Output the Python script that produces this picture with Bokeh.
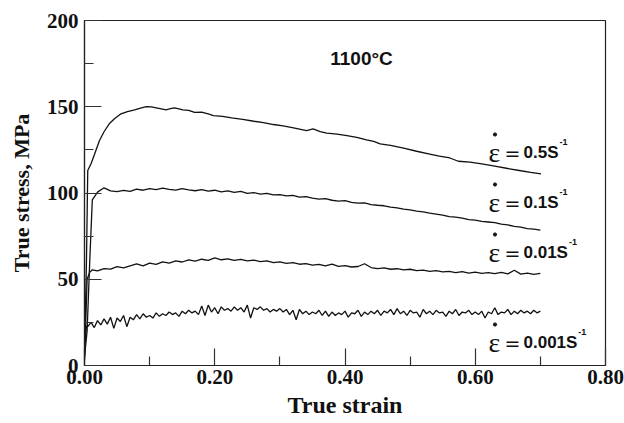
from bokeh.plotting import figure
from bokeh.models import FixedTicker, NumeralTickFormatter, Range1d
from bokeh.core.properties import value
from bokeh.embed import file_html
from bokeh.resources import INLINE

# ---------------- data ----------------
strain_05 = [0.0, 0.003, 0.005, 0.010, 0.015, 0.023, 0.030, 0.038, 0.046, 0.056, 0.066, 0.077,
             0.086, 0.095, 0.103, 0.110, 0.118, 0.125, 0.132, 0.138, 0.145, 0.151, 0.160, 0.169,
             0.181, 0.190, 0.198, 0.212, 0.226, 0.243, 0.260, 0.275, 0.290, 0.305, 0.321, 0.341,
             0.351, 0.362, 0.372, 0.388, 0.403, 0.418, 0.433, 0.444, 0.454, 0.470, 0.490, 0.510,
             0.530, 0.545, 0.561, 0.574, 0.592, 0.610, 0.630, 0.650, 0.670, 0.685, 0.701]
stress_05 = [5.0, 60.0, 113.0, 117.0, 122.0, 130.4, 135.5, 140.1, 143.0, 145.9, 147.2, 148.2,
             149.2, 150.1, 149.9, 149.4, 148.8, 148.2, 148.9, 149.4, 148.8, 148.2, 147.9, 146.7,
             146.8, 145.8, 144.9, 144.4, 143.6, 142.7, 141.6, 140.8, 139.7, 138.9, 137.8, 136.2,
             137.2, 135.6, 134.7, 134.1, 133.3, 132.3, 130.8, 129.9, 128.5, 127.6, 126.0, 124.2,
             122.6, 121.4, 120.3, 118.4, 117.9, 116.9, 115.6, 114.2, 112.9, 112.0, 111.1]

strain_01 = [0.0, 0.004, 0.008, 0.012, 0.02, 0.03, 0.04, 0.05, 0.06, 0.07, 0.08, 0.09, 0.10,
             0.11, 0.12, 0.13, 0.14, 0.15, 0.16, 0.17, 0.18, 0.19, 0.20, 0.21, 0.22, 0.23, 0.24,
             0.25, 0.26, 0.27, 0.28, 0.29, 0.30, 0.31, 0.32, 0.33, 0.34, 0.35, 0.36, 0.37, 0.38,
             0.39, 0.40, 0.41, 0.42, 0.43, 0.44, 0.45, 0.46, 0.47, 0.48, 0.49, 0.50, 0.51, 0.52,
             0.53, 0.54, 0.55, 0.56, 0.57, 0.58, 0.59, 0.60, 0.61, 0.62, 0.63, 0.64, 0.65, 0.66,
             0.67, 0.68, 0.69, 0.70]
stress_01 = [5.0, 20.0, 60.0, 96.0, 100.5, 103.0, 101.2, 100.8, 101.5, 100.9, 102.2, 101.6, 102.6,
             101.9, 102.8, 102.1, 101.7, 102.5, 101.8, 101.3, 102.0, 101.1, 101.6, 100.7, 101.2,
             100.3, 100.9, 99.8, 100.2, 99.4, 99.8, 98.9, 99.1, 98.3, 98.6, 97.6, 97.9, 97.0,
             96.4, 96.7, 95.8, 95.3, 95.6, 94.6, 94.1, 94.3, 93.3, 92.9, 92.6, 91.8, 91.4, 90.6,
             90.2, 89.5, 89.1, 88.3, 87.8, 87.2, 86.3, 86.0, 85.4, 84.6, 84.3, 83.5, 83.2, 82.8,
             81.9, 81.5, 80.6, 80.2, 79.4, 79.0, 78.5]

strain_001 = strain_01
stress_001 = [3.0, 50.0, 54.0, 55.5, 54.8, 56.2, 55.9, 57.3, 56.6, 57.8, 58.9, 57.7, 59.3,
              58.6, 60.1, 59.4, 60.6, 60.0, 61.2, 60.5, 61.6, 61.0, 62.4, 61.3, 61.8, 60.9,
              61.5, 60.6, 61.1, 60.2, 60.7, 59.6, 60.1, 59.2, 59.6, 58.7, 59.1, 58.2, 58.6,
              57.8, 58.8, 57.5, 57.9, 57.1, 57.4, 59.0, 56.8, 56.2, 56.6, 55.8, 56.1, 55.4,
              55.8, 55.0, 55.3, 54.6, 55.0, 54.3, 54.6, 53.9, 54.4, 53.6, 54.1, 53.4, 53.8,
              53.2, 54.0, 53.1, 55.2, 53.0, 53.5, 52.8, 53.4]

strain_0001 = [0.0, 0.003] + [round(0.005 * i, 3) for i in range(1, 141)]
stress_0001 = [8.0, 23.0,
    22.5, 25.0, 22.0, 26.0, 23.5, 27.0, 24.0, 28.0, 21.5, 27.5,
    25.5, 29.0, 22.5, 28.0, 26.5, 29.5, 27.0, 30.0, 28.0, 29.0,
    27.5, 30.5, 28.5, 30.0, 29.0, 31.0, 29.5, 30.5, 28.5, 31.5,
    30.0, 32.0, 30.5, 31.5, 29.5, 34.5, 29.0, 35.0, 31.0, 33.5,
    30.0, 34.0, 32.0, 33.0, 31.5, 34.0, 32.0, 33.5, 31.0, 35.0,
    27.5, 33.5, 32.5, 34.0, 32.0, 33.0, 31.0, 32.5, 31.5, 33.0,
    31.0, 32.5, 29.5, 32.0, 26.5, 32.5, 30.0, 31.5, 29.5, 31.0,
    30.0, 32.0, 29.0, 31.5, 28.5, 31.0, 29.0, 30.5, 29.5, 31.5,
    28.0, 30.5, 30.0, 32.0, 28.5, 31.0, 29.5, 31.5, 30.0, 32.0,
    29.0, 31.5, 30.5, 32.5, 29.5, 33.0, 30.0, 31.5, 29.0, 32.0,
    30.5, 31.0, 28.0, 32.5, 30.0, 31.5, 29.5, 32.0, 30.5, 31.0,
    28.5, 31.5, 30.0, 32.5, 29.0, 31.0, 30.5, 32.0, 29.5, 31.0,
    29.5, 31.5, 27.5, 31.0, 30.0, 33.5, 29.5, 31.0, 30.5, 32.5,
    29.5, 31.5, 30.0, 32.0, 30.5, 31.5, 30.0, 32.0, 30.5, 31.5]

rate_labels = ["0.5S", "0.1S", "0.01S", "0.001S"]
title_text = "1100°C"
x_ticks = [0.0, 0.2, 0.4, 0.6, 0.8]
x_minor = [0.1, 0.3, 0.5, 0.7]
y_ticks = [0, 50, 100, 150, 200]
y_minor = [25, 75, 125, 175]

# ---------------- layout helpers (pixel -> data) ----------------
FL, FR, FT, FB = 84, 605, 20, 365
def dx(px):
    return (px - FL) / (FR - FL) * 0.8
def dy(py):
    return (FB - py) / (FB - FT) * 200.0

p = figure(width=624, height=423, x_range=Range1d(0, 0.8), y_range=Range1d(0, 200),
           output_backend="svg", toolbar_location=None,
           min_border_left=FL, min_border_right=624 - FR, min_border_top=FT,
           min_border_bottom=423 - FB)
p.background_fill_color = "white"
p.border_fill_color = "white"
p.outline_line_color = "#222222"
p.outline_line_width = 1.2
p.xgrid.visible = False
p.ygrid.visible = False

serif = "Liberation Serif"
for ax in (p.xaxis[0], p.yaxis[0]):
    ax.major_tick_in = 17
    ax.major_tick_out = 0
    ax.minor_tick_in = 9
    ax.minor_tick_out = 0
    ax.axis_line_color = "#222222"
    ax.axis_line_width = 1.2
    ax.major_tick_line_color = "#333333"
    ax.minor_tick_line_color = "#333333"
    ax.major_tick_line_width = 1.2
    ax.minor_tick_line_width = 1.2
    ax.major_label_text_font = serif
    ax.major_label_text_font_style = "bold"
    ax.major_label_text_font_size = "21px"
    ax.major_label_text_color = "#111111"
    ax.axis_label_text_font = serif
    ax.axis_label_text_font_style = "bold"
    ax.axis_label_text_color = "#111111"

p.xaxis.ticker = FixedTicker(ticks=x_ticks, minor_ticks=x_minor)
p.yaxis.ticker = FixedTicker(ticks=y_ticks, minor_ticks=y_minor)
p.xaxis.formatter = NumeralTickFormatter(format="0.00")
p.xaxis.axis_label = "True strain"
p.yaxis.axis_label = "True stress, MPa"
p.xaxis.axis_label_text_font_size = "24px"
p.yaxis.axis_label_text_font_size = "22px"
p.xaxis.major_label_standoff = 4
p.yaxis.major_label_standoff = 6
p.xaxis.axis_label_standoff = 5
p.yaxis.axis_label_standoff = 10

# ---------------- curves ----------------
for xs, ys in ((strain_05, stress_05), (strain_01, stress_01),
               (strain_001, stress_001), (strain_0001, stress_0001)):
    p.line(xs, ys, line_color="#111111", line_width=1.3)

# ---------------- title ----------------
p.text(x=[dx(361)], y=[dy(58)], text=[title_text], text_font=value("Liberation Sans"),
       text_font_style="bold", text_font_size="19px", text_align="center",
       text_baseline="alphabetic", text_color="#111111")

# ---------------- rate labels ----------------
baselines = [152, 202, 252, 342]
num_size = 17
em = {"0": 0.556, ".": 0.278, "5": 0.556, "1": 0.556, "S": 0.667}
for lab, bl in zip(rate_labels, baselines):
    p.text(x=[dx(488)], y=[dy(bl)], text=["ε"], text_font=value("Liberation Serif"),
           text_font_size="28px", text_baseline="alphabetic", text_color="#111111")
    p.scatter(x=[dx(494.5)], y=[dy(bl - 18)], size=3.2, color="#111111")
    p.text(x=[dx(504)], y=[dy(bl)], text=["="], text_font=value("DejaVu Sans"),
           text_font_size="19px", text_baseline="alphabetic", text_color="#111111")
    p.text(x=[dx(523)], y=[dy(bl)], text=[lab], text_font=value("Liberation Sans"),
           text_font_style="bold", text_font_size=f"{num_size}px",
           text_baseline="alphabetic", text_color="#111111")
    w = sum(em[c] for c in lab) * num_size
    p.text(x=[dx(523 + w + 1)], y=[dy(bl - 11)], text=["-1"], text_font=value("Liberation Sans"),
           text_font_style="bold", text_font_size="9px",
           text_baseline="alphabetic", text_color="#111111")

open("out.html", "w").write(file_html(p, INLINE))
